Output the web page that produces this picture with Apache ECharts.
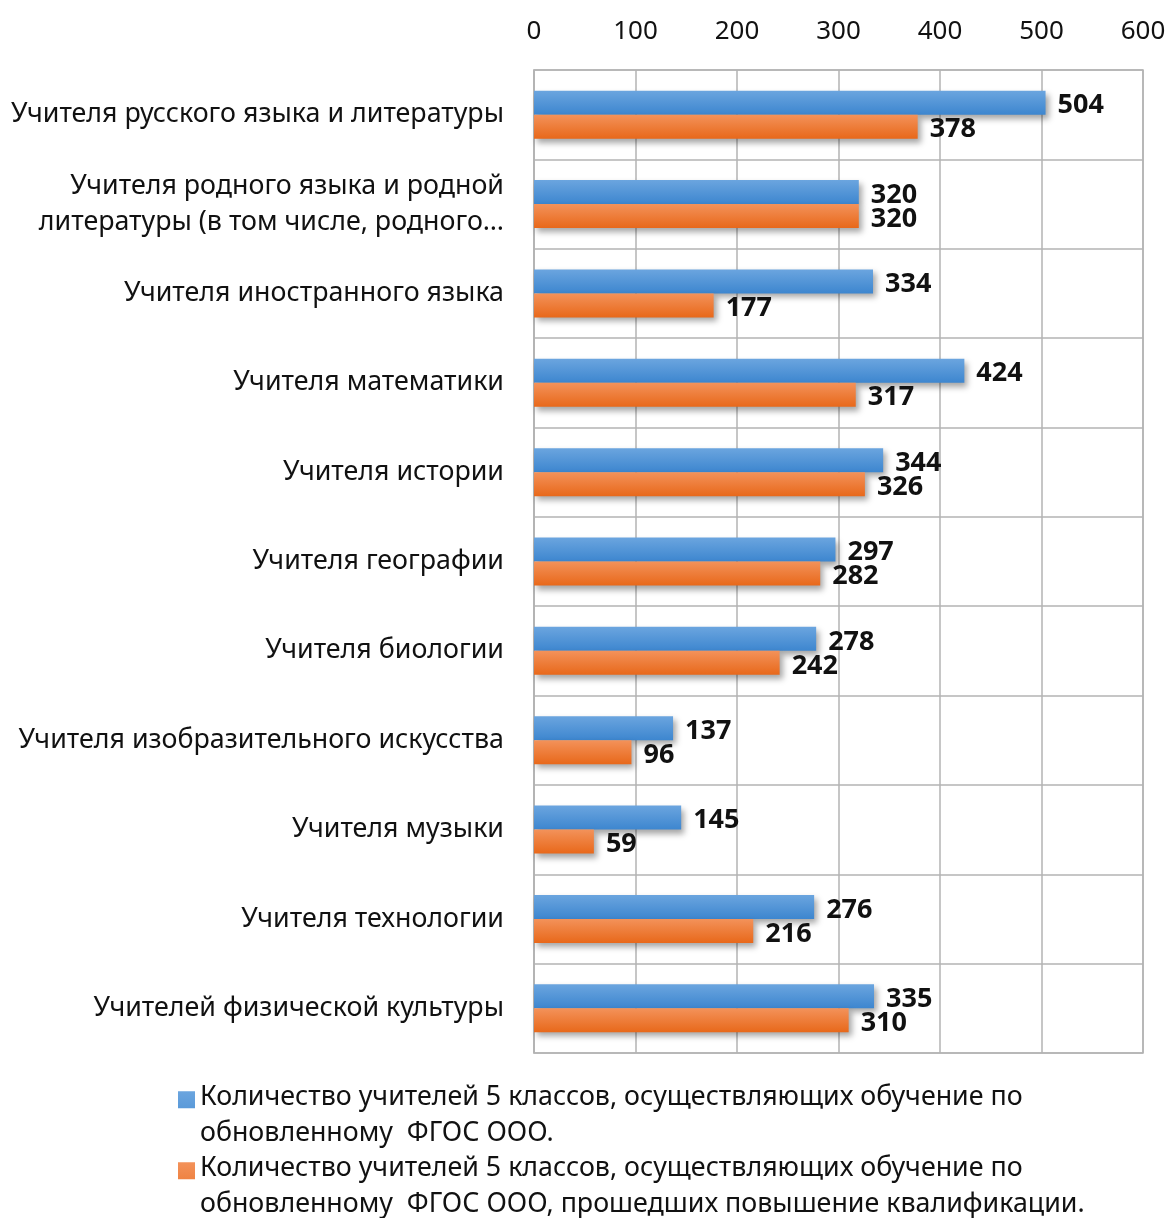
<!DOCTYPE html>
<html><head><meta charset="utf-8">
<script src="https://cdn.jsdelivr.net/npm/echarts@6/dist/echarts.min.js"></script>
<style>html,body{margin:0;padding:0;background:#fff}#c{width:1171px;height:1218px}</style>
</head><body><div id="c"></div>
<script>
const categories = [
  "Учителя русского языка и литературы",
  "Учителя родного языка и родной\nлитературы (в том числе, родного…",
  "Учителя иностранного языка",
  "Учителя математики",
  "Учителя истории",
  "Учителя географии",
  "Учителя биологии",
  "Учителя изобразительного искусства",
  "Учителя музыки",
  "Учителя технологии",
  "Учителей физической культуры"
];
const seriesNames = [
  "Количество учителей 5 классов, осуществляющих обучение по\nобновленному  ФГОС ООО.",
  "Количество учителей 5 классов, осуществляющих обучение по\nобновленному  ФГОС ООО, прошедших повышение квалификации."
];
const teachers = [504, 320, 334, 424, 344, 297, 278, 137, 145, 276, 335];
const trained  = [378, 320, 177, 317, 326, 282, 242, 96, 59, 216, 310];
const xTicks = [0, 100, 200, 300, 400, 500, 600];

const FONT = "Noto Sans";
function grad(c1, c2) {
  return new echarts.graphic.LinearGradient(0, 0, 0, 1, [{offset: 0, color: c1}, {offset: 1, color: c2}]);
}
const chart = echarts.init(document.getElementById('c'), null, {renderer: 'canvas'});
const lbl = {show: true, position: 'right', distance: 12, offset: [0, 3], color: '#111', fontWeight: 'bold', fontSize: 27, fontFamily: FONT};
const shadow = {shadowBlur: 6, shadowOffsetX: 3, shadowOffsetY: 4, shadowColor: 'rgba(0,0,0,0.35)'};
// square at top of a taller box so it lines up with the first text line
const legendIcon = 'path://M0,0h10v10h-10z M0,28h0.01v0.01h-0.01z';
const legendBase = {
  orient: 'vertical', left: 173, itemWidth: 17, itemHeight: 48, icon: legendIcon,
  textStyle: {fontSize: 26.8, color: '#111', lineHeight: 36, fontFamily: FONT}
};
chart.setOption({
  animation: false,
  textStyle: {fontFamily: FONT},
  grid: {left: 534, right: 28, top: 70, bottom: 165, show: true, borderColor: '#b3b3b3', borderWidth: 1.5},
  xAxis: {
    type: 'value', position: 'top', min: xTicks[0], max: xTicks[xTicks.length - 1], interval: 100,
    axisLine: {show: false}, axisTick: {show: false},
    axisLabel: {fontSize: 26, color: '#111', margin: 25, fontFamily: FONT},
    splitLine: {show: true, lineStyle: {color: '#b3b3b3', width: 1.5}}
  },
  yAxis: {
    type: 'category', data: categories, inverse: true,
    axisLine: {show: true, lineStyle: {color: '#b3b3b3', width: 1.5}}, axisTick: {show: false},
    axisLabel: {fontSize: 26.8, color: '#111', margin: 30, lineHeight: 36, align: 'right', fontFamily: FONT},
    splitLine: {show: true, lineStyle: {color: '#b3b3b3', width: 1.5}}
  },
  legend: [
    Object.assign({top: 1074, data: [seriesNames[0]]}, legendBase),
    Object.assign({top: 1145, data: [seriesNames[1]]}, legendBase)
  ],
  series: [
    {name: seriesNames[0], type: 'bar', data: teachers, barWidth: 24, barGap: '0%',
     itemStyle: Object.assign({color: grad('#6ba5df', '#3d86cf')}, shadow), label: lbl},
    {name: seriesNames[1], type: 'bar', data: trained, barWidth: 24, barGap: '0%',
     itemStyle: Object.assign({color: grad('#f3925a', '#e8681a')}, shadow), label: lbl}
  ]
});
</script></body></html>
